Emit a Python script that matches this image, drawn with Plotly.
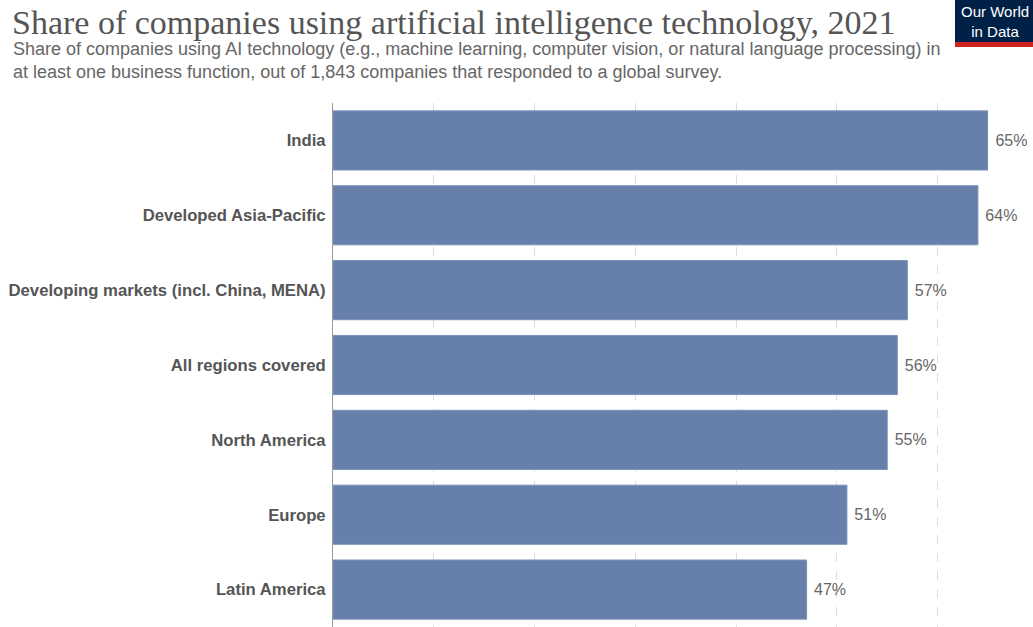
import plotly.graph_objects as go

categories = ["India", "Developed Asia-Pacific", "Developing markets (incl. China, MENA)",
              "All regions covered", "North America", "Europe", "Latin America"]
values = [65, 64, 57, 56, 55, 51, 47]
value_labels = [f"{v}%" for v in values]

W, H = 1033, 627
ML, MR, MT, MB = 333, 45, 103, 0

fig = go.Figure()
fig.add_trace(go.Bar(
    x=values, y=categories, orientation="h",
    marker=dict(color="#6680AB", line=dict(color="#7A92BA", width=1)),
    text=value_labels, texttemplate=" %{text}", textposition="outside",
    textfont=dict(family="Liberation Sans, Arial", size=16, color="#666"),
    cliponaxis=False, hoverinfo="skip",
))

fig.update_layout(
    width=W, height=H,
    margin=dict(l=ML, r=MR, t=MT, b=MB),
    paper_bgcolor="white", plot_bgcolor="white",
    bargap=0.21, showlegend=False,
    xaxis=dict(range=[0, 65], dtick=10, showticklabels=False, showgrid=True,
               gridcolor="#DDDDDD", griddash="dash", gridwidth=1, zeroline=False,
               showline=False, fixedrange=True),
    yaxis=dict(autorange="reversed", showline=True, linecolor="#999", linewidth=1,
               ticks="", ticklabelstandoff=3,
               tickfont=dict(family="Liberation Sans, Arial", size=16.7, color="#555", weight="bold"),
               showgrid=False, zeroline=False),
)

def px_x(px):
    return (px - ML) / (W - ML - MR)

def px_y(py):
    return (H - MB - py) / (H - MT - MB)

fig.add_annotation(
    text="Share of companies using artificial intelligence technology, 2021",
    xref="paper", yref="paper", x=px_x(10), y=px_y(22), xanchor="left", yanchor="middle",
    showarrow=False,
    font=dict(family="Liberation Serif, Times New Roman", size=34, color="#555"),
)
fig.add_annotation(
    text="Share of companies using AI technology (e.g., machine learning, computer vision, or natural language processing) in<br>at least one business function, out of 1,843 companies that responded to a global survey.",
    xref="paper", yref="paper", x=px_x(11), y=px_y(61), xanchor="left", yanchor="middle",
    align="left", showarrow=False,
    font=dict(family="Liberation Sans, Arial", size=18, color="#666"),
)

# Logo
fig.add_shape(type="rect", xref="paper", yref="paper",
              x0=px_x(955), x1=px_x(1033), y0=px_y(42), y1=px_y(0),
              fillcolor="#002147", line=dict(width=0), layer="above")
fig.add_shape(type="rect", xref="paper", yref="paper",
              x0=px_x(955), x1=px_x(1033), y0=px_y(47), y1=px_y(42),
              fillcolor="#CE261E", line=dict(width=0), layer="above")
fig.add_annotation(text="Our World<br>in Data", xref="paper", yref="paper",
                   x=px_x(995), y=px_y(21), xanchor="center", yanchor="middle",
                   showarrow=False, align="center",
                   font=dict(family="Liberation Sans, Arial", size=15, color="white"))

fig.write_html("out.html", config={"displayModeBar": False},
               post_script="document.body.style.margin='0';")
